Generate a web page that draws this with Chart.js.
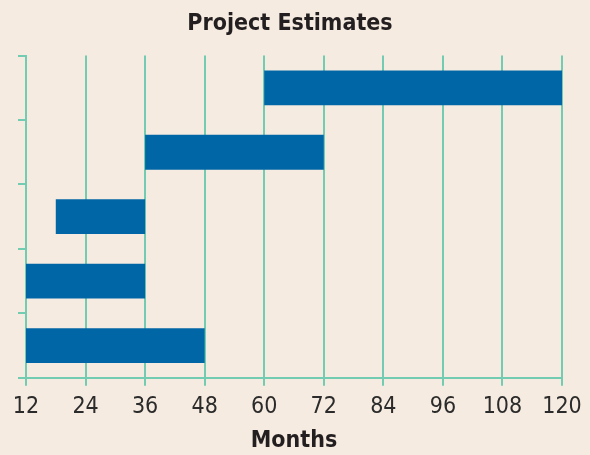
<!DOCTYPE html>
<html>
<head>
<meta charset="utf-8">
<script src="https://cdn.jsdelivr.net/npm/chart.js@4/dist/chart.umd.min.js"></script>
<style>
  html, body { margin: 0; padding: 0; background: #f6ebe0; }
  #wrap { width: 590px; height: 455px; }
</style>
</head>
<body>
<div id="wrap"><canvas id="grafico" width="590" height="455"></canvas></div>
<script>
// projetos de cima para baixo
const projetos = ['Projeto 5', 'Projeto 4', 'Projeto 3', 'Projeto 2', 'Projeto 1'];
const inicio = [60, 36, 18, 12, 12];
const fim = [120, 72, 36, 36, 48];
const mesesTicks = [12, 24, 36, 48, 60, 72, 84, 96, 108, 120];

const verde = '#72ccb2';
const azul = '#0066a6';
const fonte = "'Liberation Sans Narrow', 'DejaVu Sans Condensed', 'Roboto', sans-serif";

const intervalos = projetos.map((p, i) => [inicio[i], fim[i]]);

const ctx = document.getElementById('grafico').getContext('2d');

new Chart(ctx, {
  type: 'bar',
  data: {
    labels: projetos,
    datasets: [
      {
        label: 'Estimativa',
        data: intervalos,
        backgroundColor: azul,
        borderWidth: 0,
        barPercentage: 0.54,
        categoryPercentage: 1,
      },
    ],
  },
  options: {
    indexAxis: 'y',
    responsive: false,
    animation: false,
    layout: {
      padding: { left: 18, right: 28, top: 0, bottom: 0 },
    },
    plugins: {
      legend: { display: false },
      tooltip: { enabled: false },
      title: {
        display: true,
        text: 'Project Estimates',
        color: '#231f20',
        font: { family: fonte, size: 23, weight: 'bold' },
        padding: { top: 10, bottom: 18 },
      },
    },
    scales: {
      x: {
        type: 'linear',
        min: 12,
        max: 120,
        afterBuildTicks: (axis) => {
          axis.ticks = mesesTicks.map(v => ({ value: v }));
        },
        grid: {
          color: verde,
          lineWidth: 2,
          tickLength: 8,
        },
        border: { color: verde, width: 2 },
        ticks: {
          color: '#2b2b2b',
          font: { family: fonte, size: 23 },
          padding: 7,
          maxRotation: 0,
          autoSkip: false,
        },
        title: {
          display: true,
          text: 'Months',
          color: '#231f20',
          font: { family: fonte, size: 23, weight: 'bold' },
          padding: { top: 0, bottom: 0 },
        },
      },
      y: {
        grid: {
          color: verde,
          lineWidth: 2,
          tickLength: 8,
          drawOnChartArea: false,
          offset: true,
        },
        border: { color: verde, width: 2 },
        ticks: { display: false },
      },
    },
  },
});
</script>
</body>
</html>
